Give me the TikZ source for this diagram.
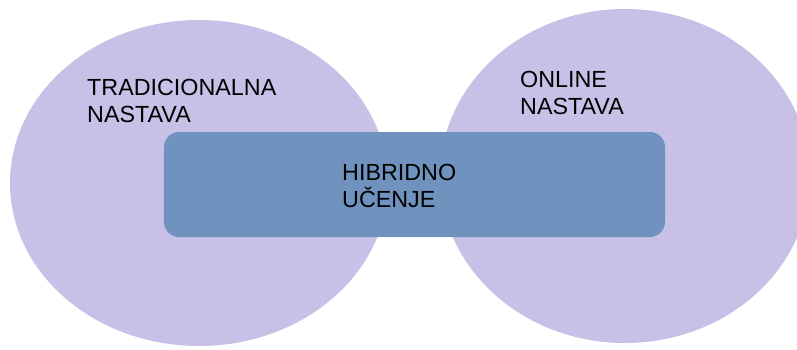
\documentclass[tikz,border=0pt]{standalone}
\usepackage{fontspec}
\setmainfont{Liberation Sans}
\usetikzlibrary{shapes.geometric}
\definecolor{lilac}{HTML}{C8C0E6}
\definecolor{steel}{HTML}{6F93BE}
\tikzset{
  blob/.style={ellipse, fill=lilac, draw=none, inner sep=0pt},
  hybrid/.style={rectangle, rounded corners=15bp, fill=steel, draw=none, inner sep=0pt},
  lbl/.style={anchor=base west, inner sep=0pt, align=left, font=\fontsize{23.4}{27.6}\selectfont, text=black}
}
\begin{document}
\begin{tikzpicture}[x=1bp,y=-1bp]
\useasboundingbox (0,0) rectangle (797,349);
\begin{scope}
\clip (0,0) rectangle (797,349);
\node[blob, minimum width=378bp, minimum height=326bp] (trad) at (199,183) {};
\node[blob, minimum width=370bp, minimum height=334bp] (online) at (625,176) {};
\node[hybrid, minimum width=501bp, minimum height=105bp] (hib) at (414.5,184.5) {};
\end{scope}
\node[lbl] (tradtxt) at (87,122.6) {TRADICIONALNA\\NASTAVA};
\node[lbl] (onltxt) at (520,114.6) {ONLINE\\NASTAVA};
\node[lbl] (hibtxt) at (342,207.6) {HIBRIDNO\\UČENJE};
\end{tikzpicture}
\end{document}
